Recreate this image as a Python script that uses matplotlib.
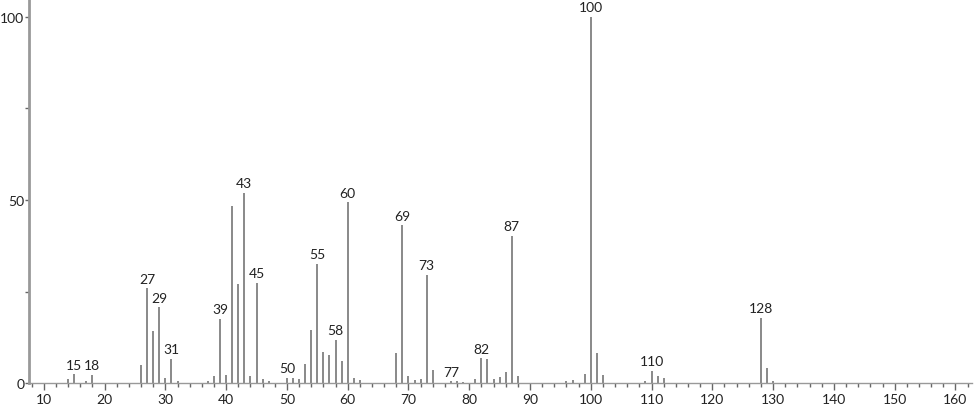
import matplotlib
matplotlib.use("Agg")
import matplotlib.pyplot as plt
from matplotlib.ticker import MultipleLocator

# m/z values and relative intensities
mz = [14, 15, 17, 18, 26, 27, 28, 29, 30, 31, 32,
      37, 38, 39, 40, 41, 42, 43, 44, 45, 46, 47,
      50, 51, 52, 53, 54, 55, 56, 57, 58, 59, 60, 61, 62,
      68, 69, 70, 71, 72, 73, 74, 77, 78, 79,
      81, 82, 83, 84, 85, 86, 87, 88,
      96, 97, 99, 100, 101, 102,
      109, 110, 111, 112, 128, 129, 130]
intensity = [1.1, 2.4, 0.5, 2.2, 4.9, 25.9, 14.2, 20.7, 1.3, 6.6, 0.5,
             0.5, 1.8, 17.5, 2.1, 48.3, 27.1, 52.0, 1.8, 27.4, 1.0, 0.6,
             1.5, 1.5, 1.0, 5.3, 14.6, 32.6, 8.6, 7.6, 11.9, 6.1, 49.4, 1.4, 0.8,
             8.2, 43.1, 2.0, 0.8, 1.1, 29.5, 3.5, 0.5, 0.6, 0.4,
             1.0, 6.8, 6.5, 1.0, 1.7, 3.0, 40.3, 2.0,
             0.6, 0.8, 2.4, 100.0, 8.1, 2.2,
             0.5, 3.3, 1.8, 1.5, 17.8, 4.1, 0.5]
labeled = [15, 18, 27, 29, 31, 39, 43, 45, 50, 55, 58, 60,
           69, 73, 77, 82, 87, 100, 110, 128]

plt.rcParams['font.family'] = ['Lato', 'DejaVu Sans']

fig = plt.figure(figsize=(9.74, 4.06), dpi=100)
ax = fig.add_axes([0.0298, 0.054, 0.968, 0.946])

ax.vlines(mz, 0, intensity, color="#6a6a6a", linewidth=1.1)

lookup = dict(zip(mz, intensity))
for m in labeled:
    ax.text(m, lookup[m] + 1.0, str(m), ha="center", va="bottom",
            fontsize=10, color="#222222")

ax.set_xlim(7.57, 162.7)
ax.set_ylim(0, 104.9)

ax.xaxis.set_major_locator(MultipleLocator(10))
ax.xaxis.set_minor_locator(MultipleLocator(2))
ax.yaxis.set_major_locator(MultipleLocator(50))
ax.yaxis.set_minor_locator(MultipleLocator(25))

for s in ["top", "right"]:
    ax.spines[s].set_visible(False)
ax.spines["left"].set_color("#999999")
ax.spines["left"].set_linewidth(2)
ax.spines["bottom"].set_color("#999999")
ax.spines["bottom"].set_linewidth(1)

ax.tick_params(axis="x", which="major", length=5, width=1,
               color="#666666", labelsize=10, pad=2, labelcolor="#222222")
ax.tick_params(axis="y", which="major", length=3, width=1,
               color="#666666", labelsize=10, pad=0.5, labelcolor="#222222")
ax.tick_params(axis="both", which="minor", length=3, width=1, color="#666666")

fig.savefig("out.png", dpi=100)
